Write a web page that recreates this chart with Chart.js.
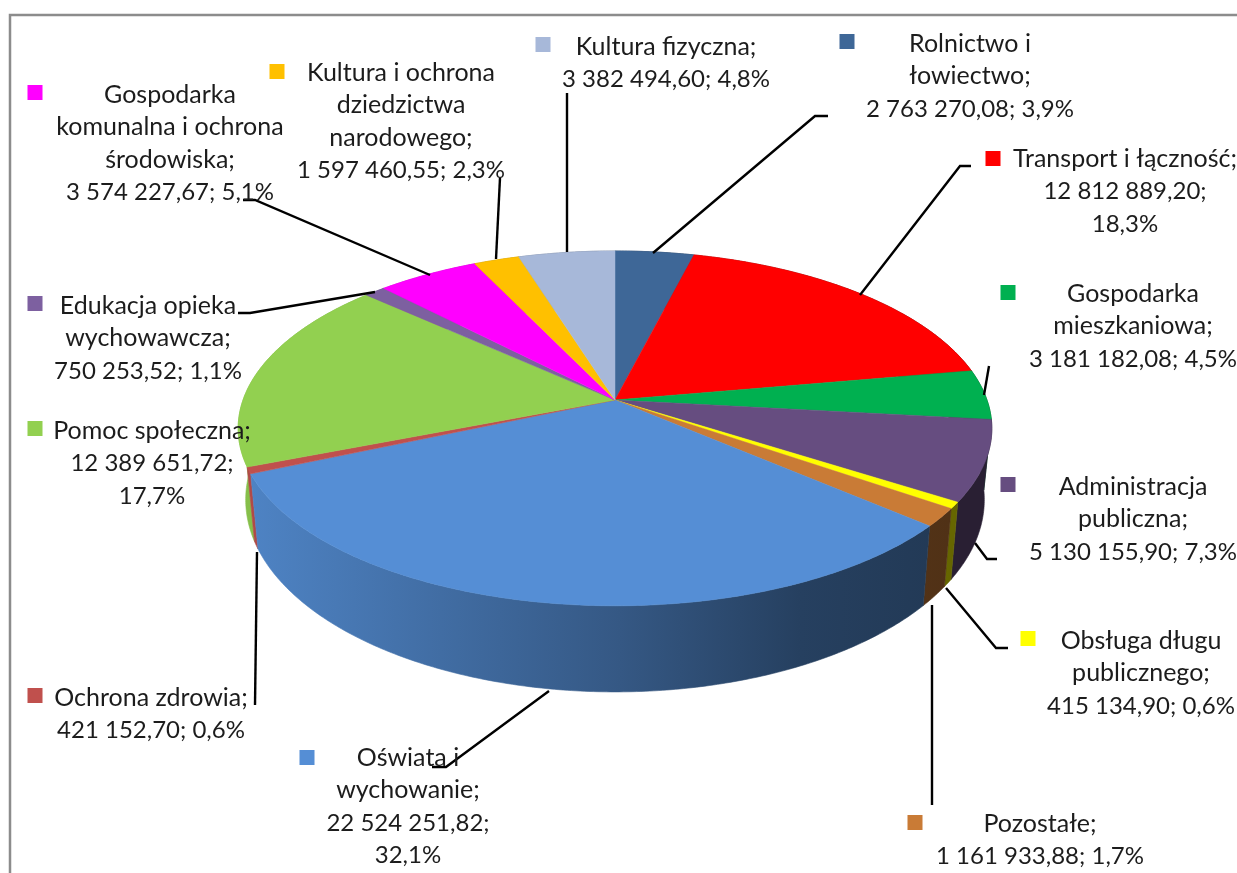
<!DOCTYPE html>
<html lang="pl">
<head>
<meta charset="utf-8">
<title>Wydatki</title>
<script src="https://cdn.jsdelivr.net/npm/chart.js@4"></script>
<style>html,body{margin:0;padding:0;background:#fff}canvas{display:block}</style>
</head>
<body>
<canvas id="c" width="1237" height="873"></canvas>
<script>
const categories = ["Rolnictwo i łowiectwo","Transport i łączność","Gospodarka mieszkaniowa","Administracja publiczna","Obsługa długu publicznego","Pozostałe","Oświata i wychowanie","Ochrona zdrowia","Pomoc społeczna","Edukacja opieka wychowawcza","Gospodarka komunalna i ochrona środowiska","Kultura i ochrona dziedzictwa narodowego","Kultura fizyczna"];
const values = [2763270.08,12812889.20,3181182.08,5130155.90,415134.90,1161933.88,22524251.82,421152.70,12389651.72,750253.52,3574227.67,1597460.55,3382494.60];
const colors = ["#3E6797","#FF0000","#00B050","#664D80","#FFFF00","#C97B36","#558ED5","#C0504D","#92D050","#7D60A0","#FF00FF","#FFC000","#A7B8D9"];
const labelLines = [
 ["Rolnictwo i","łowiectwo;","2 763 270,08; 3,9%"],
 ["Transport i łączność;","12 812 889,20;","18,3%"],
 ["Gospodarka","mieszkaniowa;","3 181 182,08; 4,5%"],
 ["Administracja","publiczna;","5 130 155,90; 7,3%"],
 ["Obsługa długu","publicznego;","415 134,90; 0,6%"],
 ["Pozostałe;","1 161 933,88; 1,7%"],
 ["Oświata i","wychowanie;","22 524 251,82;","32,1%"],
 ["Ochrona zdrowia;","421 152,70; 0,6%"],
 ["Pomoc społeczna;","12 389 651,72;","17,7%"],
 ["Edukacja opieka","wychowawcza;","750 253,52; 1,1%"],
 ["Gospodarka","komunalna i ochrona","środowiska;","3 574 227,67; 5,1%"],
 ["Kultura i ochrona","dziedzictwa","narodowego;","1 597 460,55; 2,3%"],
 ["Kultura fizyczna;","3 382 494,60; 4,8%"]
];
// layout: [text centre x, first line y, marker centre x, marker centre y]
const labelPos = [[970,43.5,847,41.5],[1125,158.5,993,158.5],[1133,293.5,1008,292.5],[1133,486.5,1008,484.5],[1141,640.5,1028,638.5],[1040,823.5,915,822.5],[408,757.5,307,757.5],[151,697.5,35,695.5],[152,430.5,35,428.5],[148,305.5,35,303.5],[170,94.5,35,92.5],[401,72.5,277,71.5],[666,46.5,543,44.5]];
const leaders = [
 [[653,253],[815,116],[828,116]],
 [[860,295],[960,166],[971,166]],
 [[984,395],[989,366]],
 [[975,543],[987,559],[997,559]],
 [[946,588],[996,648],[1008,648]],
 [[932,605],[932,805]],
 [[549,691],[446,767],[432,767]],
 [[257,552],[255,705]],
 null,
 [[375,292],[250,313],[238,313]],
 [[430,275],[255,200],[243,200]],
 [[496,259],[500,178]],
 [[567,252],[567,93]]
];
const LINE_H = 32.7;
const FONT = '25px Lato, Carlito, sans-serif';
const FONT_NUM = '24px Lato, Carlito, sans-serif';
// perspective of the disc
const K = -0.16, A = 372, B = 172.9;
const WALL = {sx:0.98, dy:69, sy:1.083};
const SHADE = [[250,.92],[500,.72],[620,.62],[800,.45],[950,.40]];

function topPt(arc, a){
  const ux=Math.cos(a), uy=Math.sin(a), w=1+K*uy;
  return [arc.x + A*ux/w, arc.y + B*uy/w];
}
function botPt(arc, p){
  return [arc.x + WALL.sx*(p[0]-arc.x), arc.y + WALL.dy + WALL.sy*(p[1]-arc.y)];
}
function shade(hex,f){
  const n=parseInt(hex.slice(1),16);
  return `rgb(${Math.round((n>>16&255)*f)},${Math.round((n>>8&255)*f)},${Math.round((n&255)*f)})`;
}
function rim(arc, pts){
  const n=Math.max(2,Math.ceil((arc.endAngle-arc.startAngle)/0.01));
  for(let j=0;j<=n;j++) pts.push(topPt(arc,arc.startAngle+(arc.endAngle-arc.startAngle)*j/n));
  return pts;
}
const disc3d = {
  id:'disc3d',
  beforeDatasetDraw(chart,args){
    const ctx=chart.ctx, arcs=chart.getDatasetMeta(args.index).data;
    const order=arcs.map((arc,i)=>({arc,i,m:Math.max(...rim(arc,[]).map(p=>p[1]))})).sort((a,b)=>a.m-b.m);
    order.forEach(({arc,i})=>{
      const pts=rim(arc,[]);
      const g=ctx.createLinearGradient(SHADE[0][0],0,SHADE[SHADE.length-1][0],0);
      const span=SHADE[SHADE.length-1][0]-SHADE[0][0];
      SHADE.forEach(s=>g.addColorStop((s[0]-SHADE[0][0])/span,shade(colors[i],s[1])));
      ctx.beginPath();
      pts.forEach((p,j)=>j?ctx.lineTo(p[0],p[1]):ctx.moveTo(p[0],p[1]));
      pts.slice().reverse().forEach(p=>{const b=botPt(arc,p);ctx.lineTo(b[0],b[1]);});
      ctx.closePath();
      ctx.fillStyle=g;ctx.strokeStyle=g;ctx.lineWidth=.6;
      ctx.fill();ctx.stroke();
    });
    arcs.forEach((arc,i)=>{
      const pts=rim(arc,[]);
      ctx.beginPath();ctx.moveTo(arc.x,arc.y);
      pts.forEach(p=>ctx.lineTo(p[0],p[1]));
      ctx.closePath();
      ctx.fillStyle=colors[i];ctx.strokeStyle=colors[i];ctx.lineWidth=.5;
      ctx.fill();ctx.stroke();
    });
    return false;
  },
  afterDatasetsDraw(chart){
    const ctx=chart.ctx;
    ctx.save();
    ctx.strokeStyle='#8C8C8C';ctx.lineWidth=2.5;
    ctx.beginPath();ctx.moveTo(10,873);ctx.lineTo(10,15);ctx.lineTo(1237,15);ctx.stroke();
    ctx.strokeStyle='#000';ctx.lineWidth=2.4;
    leaders.forEach(l=>{ if(!l) return;
      ctx.beginPath();l.forEach((p,j)=>j?ctx.lineTo(p[0],p[1]):ctx.moveTo(p[0],p[1]));ctx.stroke();});
    ctx.textAlign='center';ctx.textBaseline='middle';
    labelLines.forEach((lines,i)=>{
      const q=labelPos[i];
      ctx.fillStyle=colors[i];ctx.fillRect(q[2]-7.5,q[3]-7.5,15,15);
      ctx.fillStyle='#1c1c1c';
      lines.forEach((t,j)=>{
        ctx.font=/^\d/.test(t)?FONT_NUM:FONT;
        ctx.fillText(t,q[0],q[1]+j*LINE_H);
      });
    });
    ctx.restore();
  }
};
new Chart(document.getElementById('c'),{
  type:'pie',
  data:{labels:categories,datasets:[{data:values,backgroundColor:colors,borderWidth:0}]},
  options:{responsive:false,animation:false,layout:{padding:{right:7,bottom:73}},
    plugins:{legend:{display:false},tooltip:{enabled:false},title:{display:false}}},
  plugins:[disc3d]
});
</script>
</body>
</html>
